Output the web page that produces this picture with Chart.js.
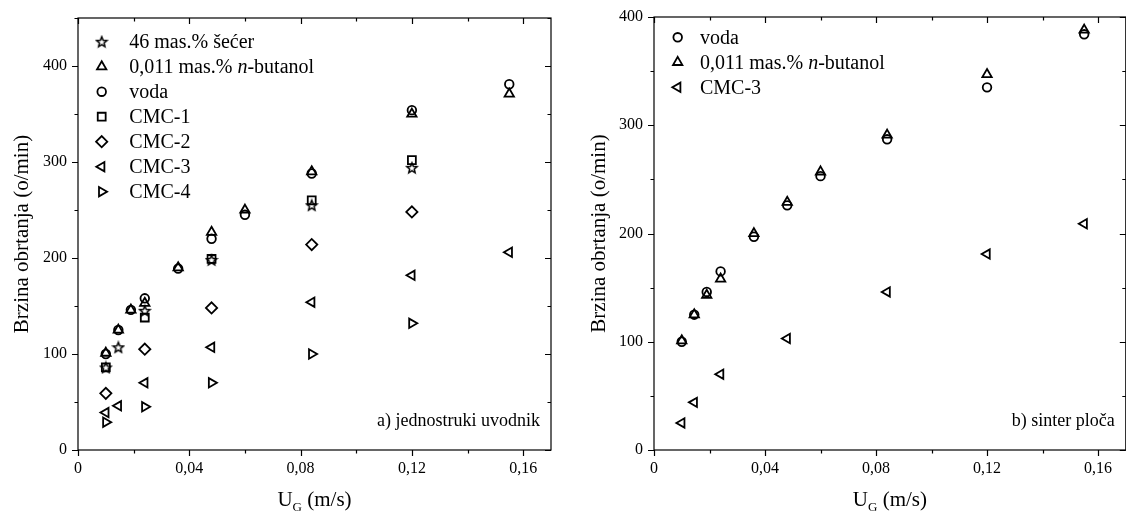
<!DOCTYPE html>
<html>
<head>
<meta charset="utf-8">
<script src="https://cdn.jsdelivr.net/npm/chart.js@4.4.1/dist/chart.umd.min.js"></script>
<style>
  body { margin: 0; background: #fff; overflow: hidden; }
  .box { position: absolute; top: 0; height: 516px; }
</style>
</head>
<body>
<div class="box" style="left:0;width:575px"><canvas id="chartA"></canvas></div>
<div class="box" style="left:575px;width:558px"><canvas id="chartB"></canvas></div>
<script>
// tick labels
const xTicks = [0, 0.04, 0.08, 0.12, 0.16];
const yTicks = [0, 100, 200, 300, 400];

// a) jednostruki uvodnik
const labelsA = ["46 mas.% šećer", "0,011 mas.% n-butanol", "voda", "CMC-1", "CMC-2", "CMC-3", "CMC-4"];
const ugAll = [0.01, 0.0145, 0.019, 0.024, 0.036, 0.048, 0.06, 0.084, 0.12, 0.155];
const ugSecer = [0.01, 0.0145, 0.024, 0.048, 0.084, 0.12];
const ugCmc = [0.01, 0.024, 0.048, 0.084, 0.12];
const ugCmc3 = [0.01, 0.0145, 0.024, 0.048, 0.084, 0.12, 0.155];

const secerA = [86, 107, 145, 198, 255, 294];
const butanolA = [101, 125, 146, 153, 190, 227, 250, 290, 350, 371];
const vodaA = [100, 125, 146, 158, 189, 220, 245, 288, 354, 381];
const cmc1A = [86, 138, 199, 260, 302];
const cmc2A = [59, 105, 148, 214, 248];
const cmc3A = [39, 46, 70, 107, 154, 182, 206];
const cmc4A = [29, 45, 70, 100, 132];

// b) sinter ploča
const labelsB = ["voda", "0,011 mas.% n-butanol", "CMC-3"];
const vodaB = [100, 125, 146, 165, 197, 226, 253, 287, 335, 384];
const butanolB = [101, 125, 143, 158, 200, 229, 257, 291, 347, 388];
const cmc3B = [25, 44, 70, 103, 146, 181, 209];

Chart.defaults.font.family = '"Liberation Serif", "Times New Roman", serif';
Chart.defaults.color = '#000';

function starImage() {
  const c = document.createElement('canvas');
  c.width = 14; c.height = 14;
  const g = c.getContext('2d');
  g.beginPath();
  for (let i = 0; i < 10; i++) {
    const r = i % 2 ? 2.4 : 5.4;
    const a = -Math.PI / 2 + i * Math.PI / 5;
    const px = 7 + r * Math.cos(a), py = 7.5 + r * Math.sin(a);
    if (i) g.lineTo(px, py); else g.moveTo(px, py);
  }
  g.closePath();
  g.lineWidth = 1.5;
  g.strokeStyle = '#000';
  g.stroke();
  return c;
}
const star = starImage();

const markers = {
  "46 mas.% šećer": { pointStyle: star, pointRadius: 5 },
  "0,011 mas.% n-butanol": { pointStyle: 'triangle', pointRadius: 5.4 },
  "voda": { pointStyle: 'circle', pointRadius: 4.3 },
  "CMC-1": { pointStyle: 'rect', pointRadius: 5.6 },
  "CMC-2": { pointStyle: 'rectRot', pointRadius: 5.6 },
  "CMC-3": { pointStyle: 'triangle', pointRotation: -90, pointRadius: 5.4 },
  "CMC-4": { pointStyle: 'triangle', pointRotation: 90, pointRadius: 5.4 }
};

function pts(xs, ys) {
  return xs.map((x, i) => ({ x: x, y: ys[i] }));
}

function series(label, xs, ys) {
  return Object.assign({
    label: label,
    data: pts(xs, ys),
    borderColor: '#000',
    backgroundColor: 'rgba(0,0,0,0)',
    borderWidth: 1.8,
    pointRotation: 0,
    showLine: false
  }, markers[label]);
}

function drawLabel(ctx, text, x, y, size) {
  const parts = text.split(' n-');
  const normal = size + 'px "Liberation Serif"';
  ctx.font = normal;
  if (parts.length < 2) { ctx.fillText(text, x, y); return; }
  const first = parts[0] + ' ';
  ctx.fillText(first, x, y);
  x += ctx.measureText(first).width;
  ctx.font = 'italic ' + normal;
  ctx.fillText('n', x, y);
  x += ctx.measureText('n').width;
  ctx.font = normal;
  ctx.fillText('-' + parts[1], x, y);
}

const markerLegend = {
  id: 'markerLegend',
  afterDraw(chart, args, opts) {
    const ctx = chart.ctx;
    ctx.save();
    ctx.textBaseline = 'middle';
    chart.data.datasets.forEach((ds, i) => {
      const yy = opts.top + i * opts.step;
      ctx.strokeStyle = '#000';
      ctx.fillStyle = 'rgba(0,0,0,0)';
      ctx.lineWidth = ds.borderWidth;
      Chart.helpers.drawPoint(ctx, {
        pointStyle: ds.pointStyle,
        rotation: ds.pointRotation,
        radius: ds.pointRadius,
        borderWidth: ds.borderWidth
      }, opts.markerX, yy);
      ctx.fillStyle = '#000';
      drawLabel(ctx, ds.label, opts.textX, yy + 1, 20);
    });
    ctx.restore();
  }
};

const frame = {
  id: 'frame',
  afterDraw(chart, args, opts) {
    const { ctx, chartArea: a, scales: { x, y } } = chart;
    ctx.save();
    ctx.strokeStyle = '#000';
    ctx.lineWidth = 1.2;
    ctx.strokeRect(a.left, a.top, a.right - a.left, a.bottom - a.top);
    ctx.beginPath();
    for (let i = 0; i * 0.02 <= x.max + 1e-9; i++) {
      const px = Math.round(x.getPixelForValue(i * 0.02)) + 0.5;
      const len = i % 2 ? 3.5 : 6;
      ctx.moveTo(px, a.bottom); ctx.lineTo(px, a.bottom + len);
      ctx.moveTo(px, a.top); ctx.lineTo(px, a.top + len);
    }
    for (let i = 0; i * 50 <= y.max; i++) {
      const py = Math.round(y.getPixelForValue(i * 50)) + 0.5;
      const len = i % 2 ? 3.5 : 6;
      ctx.moveTo(a.left, py); ctx.lineTo(a.left - len, py);
      ctx.moveTo(a.right, py); ctx.lineTo(a.right - len, py);
    }
    ctx.stroke();

    // x axis title with subscript
    ctx.fillStyle = '#000';
    ctx.textBaseline = 'alphabetic';
    const big = '21px "Liberation Serif"', small = '13px "Liberation Serif"';
    ctx.font = big; const wU = ctx.measureText('U').width; const wR = ctx.measureText(' (m/s)').width;
    ctx.font = small; const wG = ctx.measureText('G').width;
    const sx = (a.left + a.right) / 2 - (wU + wG + wR) / 2;
    const base = 506;
    ctx.font = big; ctx.fillText('U', sx, base);
    ctx.font = small; ctx.fillText('G', sx + wU, base + 5);
    ctx.font = big; ctx.fillText(' (m/s)', sx + wU + wG, base);

    // panel note
    ctx.font = '18px "Liberation Serif"';
    ctx.textAlign = 'right';
    ctx.fillText(opts.note, a.right - 11, 426);
    ctx.restore();
  }
};

function makeChart(id, datasets, cfg) {
  return new Chart(document.getElementById(id), {
    type: 'scatter',
    data: { datasets: datasets },
    plugins: [frame, markerLegend],
    options: {
      responsive: true,
      maintainAspectRatio: false,
      animation: false,
      layout: { padding: { left: 0, right: cfg.padRight, top: cfg.padTop, bottom: 0 } },
      plugins: {
        legend: { display: false },
        tooltip: { enabled: false },
        frame: { note: cfg.note },
        markerLegend: cfg.legend
      },
      scales: {
        x: {
          type: 'linear',
          min: 0,
          max: 0.17,
          grid: { display: false, drawTicks: false },
          border: { display: false },
          afterBuildTicks: s => { s.ticks = xTicks.map(v => ({ value: v })); },
          afterFit: s => { s.height = 66; s.paddingLeft = 0; s.paddingRight = 0; },
          ticks: {
            padding: 9,
            maxRotation: 0,
            font: { size: 16 },
            callback: v => String(v).replace('.', ',')
          }
        },
        y: {
          type: 'linear',
          min: 0,
          max: cfg.yMax,
          grid: { display: false, drawTicks: false },
          border: { display: false },
          afterBuildTicks: s => { s.ticks = yTicks.map(v => ({ value: v })); },
          afterFit: s => { s.width = cfg.yWidth; s.paddingTop = 0; s.paddingBottom = 0; },
          title: {
            display: true,
            text: 'Brzina obrtanja (o/min)',
            font: { size: 21 },
            padding: { top: cfg.titlePad, bottom: 0 }
          },
          ticks: { padding: 11, font: { size: 16 } }
        }
      }
    }
  });
}

makeChart('chartA', [
  series(labelsA[0], ugSecer, secerA),
  series(labelsA[1], ugAll, butanolA),
  series(labelsA[2], ugAll, vodaA),
  series(labelsA[3], ugCmc, cmc1A),
  series(labelsA[4], ugCmc, cmc2A),
  series(labelsA[5], ugCmc3, cmc3A),
  series(labelsA[6], ugCmc, cmc4A)
], {
  padRight: 24, padTop: 18, yMax: 450, yWidth: 78, titlePad: 9.5,
  note: 'a) jednostruki uvodnik',
  legend: { top: 41.7, step: 25, markerX: 101.7, textX: 129.3 }
});

makeChart('chartB', [
  series(labelsB[0], ugAll, vodaB),
  series(labelsB[1], ugAll, butanolB),
  series(labelsB[2], ugCmc3, cmc3B)
], {
  padRight: 1, padTop: 17, yMax: 400, yWidth: 79, titlePad: 12,
  note: 'b) sinter ploča',
  legend: { top: 37.3, step: 25, markerX: 102.7, textX: 125 }
});
</script>
</body>
</html>
